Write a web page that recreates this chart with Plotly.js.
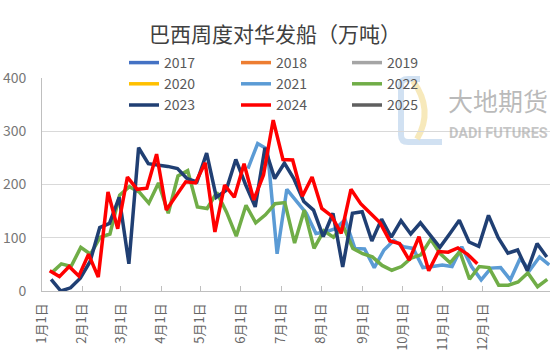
<!DOCTYPE html>
<html>
<head>
<meta charset="utf-8">
<script src="https://cdn.plot.ly/plotly-3.0.1.min.js"></script>
<style>html,body{margin:0;padding:0;background:#fff;}#chart{width:550px;height:363px;}</style>
</head>
<body>
<div id="chart"></div>
<script>
// ---- data ----
var years = ['2017','2018','2019','2020','2021','2022','2023','2024','2025'];
var monthLabels = ['1月1日','2月1日','3月1日','4月1日','5月1日','6月1日','7月1日','8月1日','9月1日','10月1日','11月1日','12月1日'];
var weekNo = [1,2,3,4,5,6,7,8,9,10,11,12,13,14,15,16,17,18,19,20,21,22,23,24,25,26,27,28,29,30,31,32,33,34,35,36,37,38,39,40,41,42,43,44,45,46,47,48,49,50,51,52];
var y2017 = [];
var y2018 = [];
var y2019 = [];
var y2020 = [];
var y2021 = [230,277,266,70,191,168,146,108,111,117,134,80,79,44,77,95,83,80,44,46,49,46,83,46,21,43,44,21,61,39,64,49];
var y2021FirstWeek = 21;
var y2022 = [34,51,46,82,69,101,107,180,196,186,165,203,146,216,226,158,155,185,148,103,161,128,143,164,166,90,152,80,113,101,122,80,70,64,48,39,46,62,68,97,70,53,74,22,46,44,11,11,17,34,8,22];
var y2023 = [22,0,6,24,55,119,127,176,51,269,239,237,234,230,211,205,259,176,189,247,200,158,269,211,240,210,168,152,102,146,45,146,149,94,135,101,132,107,128,105,82,107,133,92,84,142,100,71,77,38,89,64];
var y2024 = [38,27,46,28,69,26,186,117,214,191,193,257,152,180,205,203,241,111,199,176,239,171,218,321,247,246,178,214,155,141,108,191,164,146,128,94,89,58,102,38,74,73,81,69,51];
var y2025 = [];

// ---- styling ----
var colors = {'2017':'#4472C4','2018':'#ED7D31','2019':'#A5A5A5','2020':'#FFC000','2021':'#5B9BD5','2022':'#70AD47','2023':'#203F73','2024':'#FF0000','2025':'#5F5F5F'};
var legendOf = {'2017':'legend','2020':'legend','2023':'legend','2018':'legend2','2021':'legend2','2024':'legend2','2019':'legend3','2022':'legend3','2025':'legend3'};
// small per-year shift (weekday of the weekly dates differs per year)
var shift = {'2021':0.4,'2022':0.2,'2023':0.15,'2024':0};

var series = {'2017':y2017,'2018':y2018,'2019':y2019,'2020':y2020,'2021':y2021,'2022':y2022,'2023':y2023,'2024':y2024,'2025':y2025};
var firstWeek = {'2021':y2021FirstWeek};

var traces = years.map(function(yr){
  var vals = series[yr];
  var start = firstWeek[yr] || 1;
  var xs, ys;
  if (vals.length === 0) { xs = [null]; ys = [null]; }
  else {
    ys = vals;
    xs = weekNo.slice(start-1, start-1+vals.length).map(function(w){ return w + (shift[yr]||0); });
  }
  return {
    type:'scatter', mode:'lines', name:yr, x:xs, y:ys,
    line:{color:colors[yr], width:3.5},
    legend:legendOf[yr], legendgroup:yr,
    hoverinfo:'skip'
  };
});

// pixel -> paper helper for decorations (plot area l=42, t=78, w=508, h=213)
function PX(px){ return (px-42)/508; }
function PY(py){ return (291-py)/213; }
function path(pts){
  return pts.map(function(p){ return (p[0]) + ' ' + PX(p[1]).toFixed(4) + ',' + PY(p[2]).toFixed(4); }).join(' ');
}

// month-start positions in week units
var monthTickPos = [0.22,4.33,8.27,12.46,16.47,20.66,24.81,28.92,33.17,37.29,41.40,45.52];

var font = 'Noto Sans CJK SC, Noto Sans, sans-serif';
var legCommon = {orientation:'v', xref:'paper', yref:'paper', yanchor:'top', xanchor:'left',
  font:{family:font, size:14, color:'#595959'}, bgcolor:'rgba(0,0,0,0)', borderwidth:0, tracegroupgap:0, itemclick:false, itemdoubleclick:false};

var layout = {
  width:550, height:363,
  margin:{l:42, r:0, t:78, b:72},
  paper_bgcolor:'#ffffff', plot_bgcolor:'#ffffff',
  font:{family:font, color:'#595959'},
  showlegend:true,
  title:{text:'巴西周度对华发船（万吨）', font:{family:font, size:21, color:'#404040'}, x:0.5, xanchor:'center', xref:'container', y:1-35/363, yanchor:'middle', yref:'container'},
  xaxis:{
    type:'linear', range:[0.21,52.48], tickmode:'array', tickvals:monthTickPos, ticktext:monthLabels,
    tickangle:-90, tickfont:{family:font, size:13, color:'#666666'},
    showgrid:false, zeroline:false, showline:true, linecolor:'#bfbfbf', linewidth:1,
    ticks:'inside', ticklen:5, tickcolor:'#bfbfbf', ticklabelstandoff:6, fixedrange:true
  },
  yaxis:{
    range:[0,400], dtick:100, tick0:0, showgrid:true, gridcolor:'#d9d9d9', gridwidth:1,
    zeroline:false, showline:true, linecolor:'#bfbfbf', linewidth:1, ticks:'',
    tickfont:{family:font, size:14, color:'#777777'}, ticklabelstandoff:12, fixedrange:true
  },
  legend: Object.assign({}, legCommon, {x:PX(124), y:PY(47)}),
  legend2: Object.assign({}, legCommon, {x:PX(236), y:PY(47)}),
  legend3: Object.assign({}, legCommon, {x:PX(347), y:PY(47)}),
  shapes:[
    {type:'path', xref:'paper', yref:'paper', layer:'below',
     path: path([['M',442,142],['L',408,142],['Q',401,142],['',401,135],['L',401,85],['Q',401,79],['',408,79],['L',420,79]]),
     line:{color:'rgba(190,212,236,0.7)', width:6}},
    {type:'path', xref:'paper', yref:'paper', layer:'below',
     path: path([['M',413,81],['Q',434,110],['',417,139]]),
     line:{color:'rgba(245,228,170,0.8)', width:6}}
  ],
  annotations:[
    {text:'大地期货', xref:'paper', yref:'paper', x:PX(446), y:PY(100), xanchor:'left', yanchor:'middle', showarrow:false,
     font:{family:font, size:25, color:'rgba(140,140,140,0.6)'}},
    {text:'<b>DADI FUTURES</b>', xref:'paper', yref:'paper', x:PX(447), y:PY(133), xanchor:'left', yanchor:'middle', showarrow:false,
     font:{family:'Roboto, sans-serif', size:14.5, color:'rgba(160,160,160,0.6)'}}
  ]
};

Plotly.newPlot('chart', traces, layout, {displayModeBar:false, staticPlot:true});
</script>
</body>
</html>
